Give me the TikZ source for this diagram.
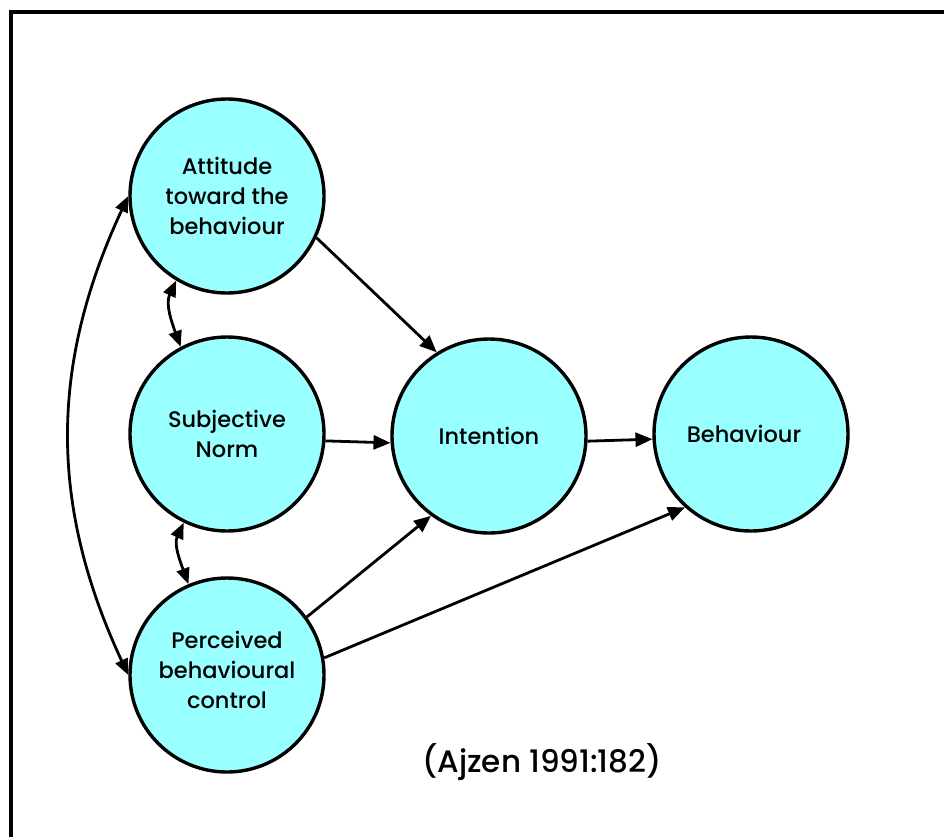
\documentclass[tikz,border=0pt]{standalone}
\usepackage{fontspec}
\setmainfont{Poppins}[UprightFont=* Medium]
\usetikzlibrary{arrows.meta}
\definecolor{lightcyan}{RGB}{153,255,255}

\begin{document}
\begin{tikzpicture}[x=1pt, y=-1pt,
  circ/.style={draw, circle, line width=3.4pt, fill=lightcyan, minimum size=194pt,
    inner sep=0pt, align=center, font=\fontsize{22.5}{30}\selectfont},
  arr/.style={line width=2.8pt, -{Triangle[length=17pt, width=14pt]}},
  dbl/.style={line width=2.8pt, {Triangle[length=16pt, width=13pt]}-{Triangle[length=16pt, width=13pt]}}]
\useasboundingbox (0,0) rectangle (944,836);

% Frame
\draw[line width=3.5pt] (11,860) -- (11,12) -- (970,12);

% Circles
\node[circ] (att) at (227,196) {Attitude\\toward the\\behaviour};
\node[circ] (sn)  at (227,434) {Subjective\\Norm};
\node[circ] (pbc) at (227,675) {\\[-22pt]Perceived\\behavioural\\control};
\node[circ] (int) at (489,436) {Intention};
\node[circ] (beh) at (751,434) {Behaviour\hspace{14pt}};

% Source
\node[font=\fontsize{31}{36}\selectfont] (src) at (542,762) {(Ajzen 1991:182)};

% Arrows
\draw[arr] (att.-25) -- (int.122);
\draw[arr] (sn.-4) -- (int.184);
\draw[arr] (int.-3) -- (beh.183);
\draw[arr] (pbc.36) -- (int.234);
\draw[arr] (pbc.10) -- (beh.228);

% Correlations
\draw[dbl] (att.239) to[out=245, in=110] (sn.118);
\draw[dbl] (sn.244) to[out=245, in=110] (pbc.113);
\draw[dbl] (att.west) to[bend right=25] (pbc.west);

\end{tikzpicture}
\end{document}
